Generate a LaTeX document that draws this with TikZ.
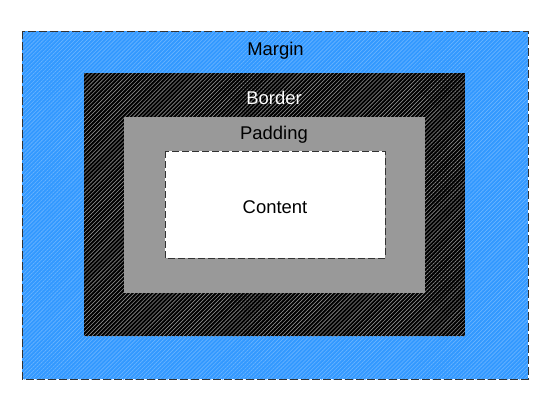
\documentclass[tikz,border=0pt]{standalone}
\usepackage{fontspec}
\setmainfont{Liberation Sans}
\usetikzlibrary{patterns.meta}
\definecolor{mblue}{HTML}{3399FF}
\definecolor{mhatch}{HTML}{6BB5FF}
\definecolor{bhatch}{HTML}{8A8A8A}
\definecolor{pgray}{HTML}{999999}
\definecolor{edge}{HTML}{333333}
\tikzset{
  box/.style={inner sep=0pt, outer sep=0pt, anchor=north west},
  lbl/.style={font=\fontsize{18.5}{21}\selectfont, inner sep=0pt},
  dashedge/.style={draw=edge, line width=0.8bp, dash pattern=on 8bp off 3bp},
}
\begin{document}
\begin{tikzpicture}[x=1bp,y=-1bp]
\useasboundingbox (0,0) rectangle (550,412);
% margin
\node[box, fill=mblue, minimum width=506bp, minimum height=348bp] (margin) at (22,31) {};
\fill[pattern={Lines[angle=45,distance=2.8bp,line width=0.6bp]}, pattern color=mhatch] (margin.north west) rectangle (margin.south east);
\draw[dashedge] (margin.north west) rectangle (margin.south east);
% border
\node[box, fill=black, minimum width=381bp, minimum height=263bp] (border) at (84,73) {};
\fill[pattern={Lines[angle=45,distance=2.8bp,line width=0.6bp]}, pattern color=bhatch] (border.north west) rectangle (border.south east);
% padding
\node[box, fill=pgray, minimum width=301bp, minimum height=176bp] (padding) at (124,117) {};
% content
\node[box, fill=white, minimum width=220bp, minimum height=107bp] (content) at (165,151) {};
\draw[dashedge, dash pattern=on 7bp off 3bp] (content.north west) rectangle (content.south east);
% labels
\node[lbl, text=black] (tm) at (275.5,50.5) {Margin};
\node[lbl, text=white] (tb) at (274,98) {Border};
\node[lbl, text=black] (tp) at (274,134.5) {Padding};
\node[lbl, text=black] (tc) at (275,207) {Content};
\end{tikzpicture}
\end{document}
